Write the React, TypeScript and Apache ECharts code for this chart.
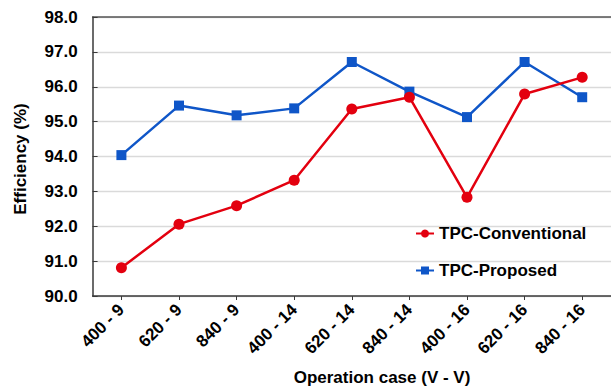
import React, { useEffect, useRef } from "react";
import * as echarts from "echarts";

// Operating points: input voltage - output voltage
const categories = [
  "400 - 9",
  "620 - 9",
  "840 - 9",
  "400 - 14",
  "620 - 14",
  "840 - 14",
  "400 - 16",
  "620 - 16",
  "840 - 16",
];

// Measured efficiency (%)
const conventional = [90.81, 92.06, 92.59, 93.32, 95.36, 95.7, 92.83, 95.79, 96.27];
const proposed = [94.04, 95.46, 95.18, 95.38, 96.71, 95.86, 95.13, 96.71, 95.7];

const yMin = 90;
const yMax = 98;
const yStep = 1;

const FONT = "'Liberation Sans', Arial, Helvetica, sans-serif";
const RED = "#e3000f";
const BLUE = "#0f56c8";
const AXIS = "#3a3a3a";

export default function App() {
  const ref = useRef<HTMLDivElement>(null);

  useEffect(() => {
    if (!ref.current) return;
    const chart = echarts.init(ref.current, null, { renderer: "svg" });
    chart.setOption({
      animation: false,
      backgroundColor: "#ffffff",
      textStyle: { fontFamily: FONT },
      grid: { left: 92.6, top: 17, right: -6, bottom: 92, containLabel: false },
      legend: {
        orient: "vertical",
        left: 410,
        top: 220,
        itemWidth: 18,
        itemHeight: 10,
        itemGap: 20,
        textStyle: { fontFamily: FONT, fontSize: 17, fontWeight: "bold", color: "#000" },
        data: ["TPC-Conventional", "TPC-Proposed"],
      },
      xAxis: [
        {
          type: "category",
          data: categories,
          boundaryGap: true,
          axisLine: { show: true, lineStyle: { color: AXIS, width: 1.5 } },
          axisTick: { show: true, alignWithLabel: true, length: 4, lineStyle: { color: AXIS, width: 1 } },
          axisLabel: {
            rotate: 45,
            margin: 11,
            fontFamily: FONT,
            fontSize: 17,
            fontWeight: "bold",
            color: "#000",
          },
          splitLine: { show: false },
        },
        {
          type: "category",
          data: categories,
          position: "top",
          axisLine: { show: true, lineStyle: { color: "#555", width: 1.5 } },
          axisTick: { show: false },
          axisLabel: { show: false },
          splitLine: { show: false },
        },
      ],
      yAxis: {
        type: "value",
        min: yMin,
        max: yMax,
        interval: yStep,
        axisLine: { show: true, lineStyle: { color: AXIS, width: 1.5 } },
        axisTick: { show: true, inside: true, length: 5, lineStyle: { color: AXIS } },
        axisLabel: {
          margin: 15,
          fontFamily: FONT,
          fontSize: 17,
          fontWeight: "bold",
          color: "#000",
          formatter: (v: number) => v.toFixed(1),
        },
        splitLine: { show: true, lineStyle: { color: "#dadada", width: 1.3 } },
      },
      graphic: [
        {
          type: "text",
          x: 20,
          y: 159,
          rotation: Math.PI / 2,
          style: {
            text: "Efficiency (%)",
            fontFamily: FONT,
            fontSize: 17,
            fontWeight: "bold",
            fill: "#000",
            textAlign: "center",
            textVerticalAlign: "middle",
          },
        },
        {
          type: "text",
          x: 382,
          y: 377,
          style: {
            text: "Operation case (V - V)",
            fontFamily: FONT,
            fontSize: 17,
            fontWeight: "bold",
            fill: "#000",
            textAlign: "center",
            textVerticalAlign: "middle",
          },
        },
      ],
      series: [
        {
          name: "TPC-Conventional",
          type: "line",
          data: conventional,
          symbol: "circle",
          symbolSize: 11,
          itemStyle: { color: RED },
          lineStyle: { color: RED, width: 2.5 },
          z: 3,
        },
        {
          name: "TPC-Proposed",
          type: "line",
          data: proposed,
          symbol: "rect",
          symbolSize: 10,
          itemStyle: { color: BLUE },
          lineStyle: { color: BLUE, width: 2.5 },
          z: 2,
        },
      ],
    });
    return () => chart.dispose();
  }, []);

  return (
    <div
      ref={ref}
      style={{ position: "fixed", left: 0, top: 0, width: 611, height: 388, background: "#fff" }}
    />
  );
}
